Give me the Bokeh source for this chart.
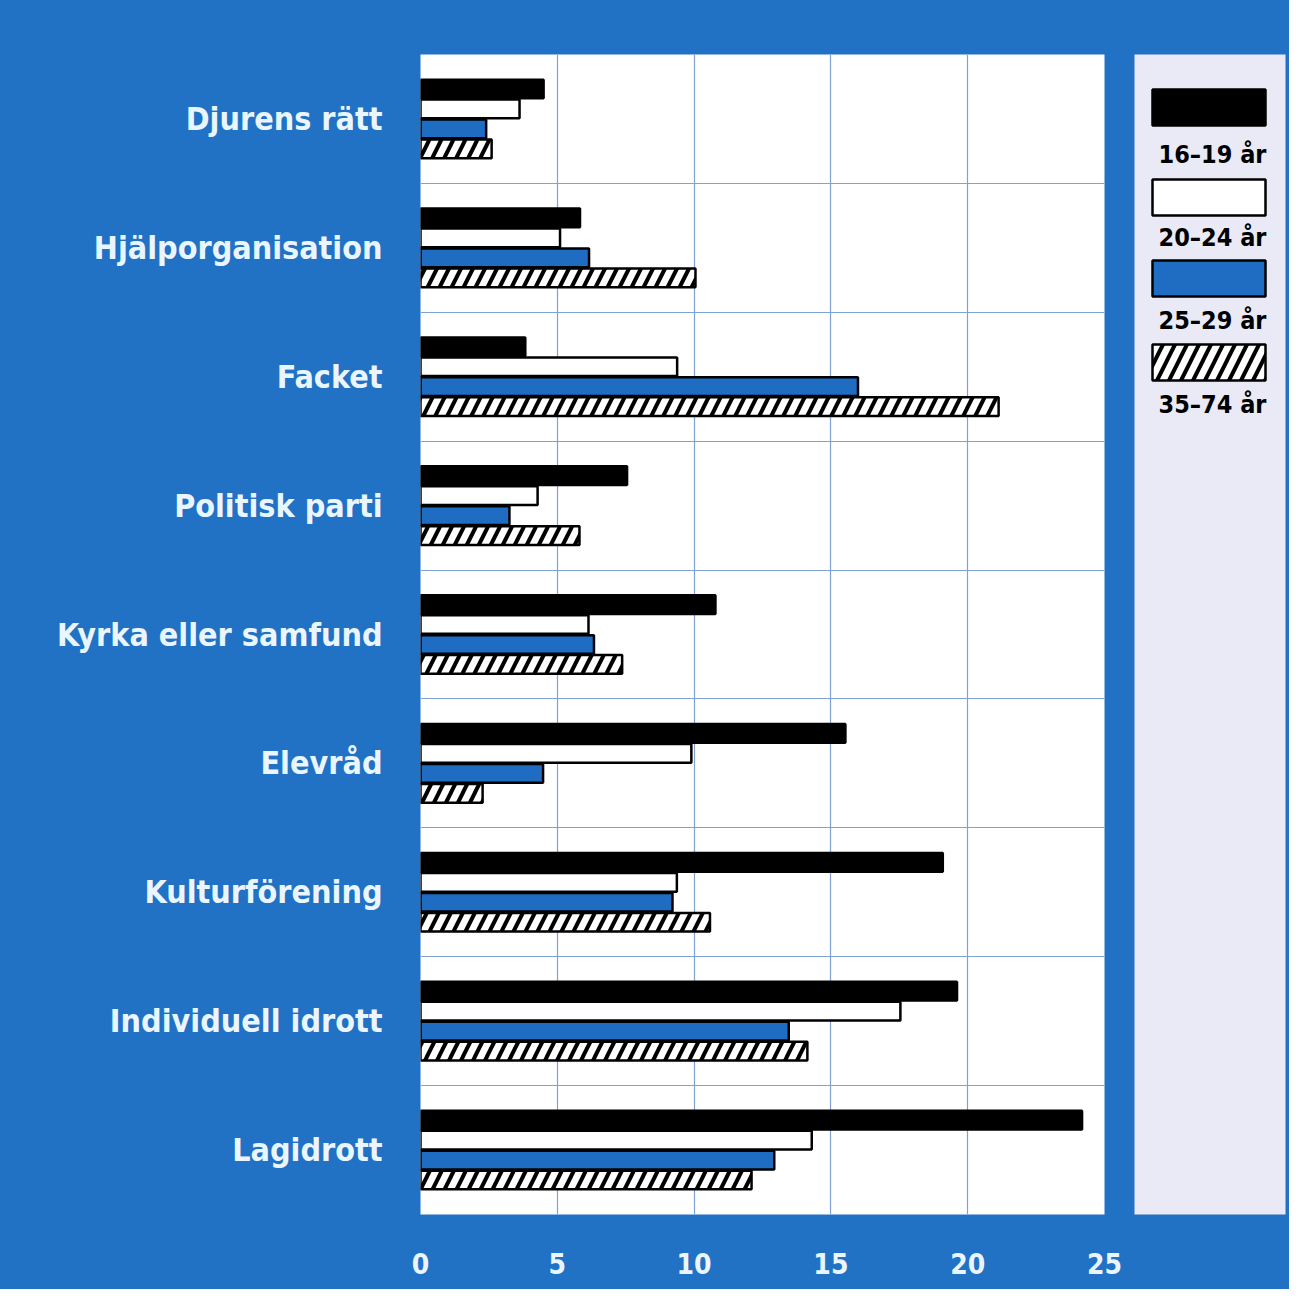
from bokeh.plotting import figure
from bokeh.layouts import row
from bokeh.models import Range1d, FactorRange, FixedTicker, ColumnDataSource
from bokeh.transform import dodge
from bokeh.core.properties import value
from bokeh.embed import file_html
from bokeh.resources import INLINE

# ---------------- data ----------------
categories = ["Djurens rätt", "Hjälporganisation", "Facket", "Politisk parti",
              "Kyrka eller samfund", "Elevråd", "Kulturförening",
              "Individuell idrott", "Lagidrott"]
age_groups = ["16–19 år", "20–24 år", "25–29 år", "35–74 år"]
v_16_19 = [4.5, 5.83, 3.83, 7.55, 10.78, 15.53, 19.09, 19.61, 24.18]
v_20_24 = [3.62, 5.1, 9.38, 4.28, 6.14, 9.9, 9.37, 17.54, 14.3]
v_25_29 = [2.4, 6.16, 15.99, 3.25, 6.34, 4.48, 9.21, 13.46, 12.93]
v_35_74 = [2.6, 10.05, 21.13, 5.81, 7.37, 2.27, 10.58, 14.14, 12.1]
x_ticks = [0, 5, 10, 15, 20, 25]

# ---------------- style ----------------
BG = "#2171c4"
BAR_BLUE = "#1f6dc2"
LAV = "#e9eaf6"
TXT = "#eaf6ff"
GRID = "#7fa2d4"
FONT = "DejaVu Sans Condensed"

series = [
    dict(col="a", fill="black", hatch=None),
    dict(col="b", fill="white", hatch=None),
    dict(col="c", fill=BAR_BLUE, hatch=None),
    dict(col="d", fill="white", hatch="/"),
]

src = ColumnDataSource(dict(cat=categories, a=v_16_19, b=v_20_24, c=v_25_29, d=v_35_74))

p = figure(width=1124, height=1289, output_backend="svg", toolbar_location=None,
           x_range=Range1d(0, 25), y_range=FactorRange(*reversed(categories)),
           min_border_left=420, min_border_right=20, min_border_top=54, min_border_bottom=72)
p.background_fill_color = "white"
p.border_fill_color = BG
p.outline_line_color = None

pitch = 0.155
for k, s in enumerate(series):
    off = (1.5 - k) * pitch
    kw = dict(y=dodge("cat", off, range=p.y_range), right=s["col"], left=0, height=0.145,
              source=src, fill_color=s["fill"], line_color="black", line_width=2.5)
    if s["hatch"]:
        kw.update(hatch_pattern=s["hatch"], hatch_color="black", hatch_scale=24, hatch_weight=4)
    p.hbar(**kw)

# axes
p.xaxis.ticker = FixedTicker(ticks=x_ticks)
p.xaxis.axis_line_color = None
p.xaxis.major_tick_line_color = None
p.xaxis.minor_tick_line_color = None
p.xaxis.major_label_text_font = FONT
p.xaxis.major_label_text_font_style = "bold"
p.xaxis.major_label_text_font_size = "28px"
p.xaxis.major_label_text_color = TXT
p.xaxis.major_label_standoff = 32

p.yaxis.axis_line_color = None
p.yaxis.major_tick_line_color = None
p.yaxis.major_label_text_font = FONT
p.yaxis.major_label_text_font_style = "bold"
p.yaxis.major_label_text_font_size = "32px"
p.yaxis.major_label_text_color = TXT
p.yaxis.major_label_standoff = 32

# grid
p.xgrid.ticker = FixedTicker(ticks=x_ticks)
p.xgrid.grid_line_color = GRID
p.xgrid.grid_line_width = 1.2
p.ygrid.ticker = FixedTicker(ticks=list(range(1, len(categories))))
p.ygrid.grid_line_color = GRID
p.ygrid.grid_line_width = 1.2

# ---------------- legend panel ----------------
leg = figure(width=165, height=1289, output_backend="svg", toolbar_location=None,
             x_range=Range1d(0, 151), y_range=Range1d(1160, 0),
             x_axis_location=None, y_axis_location=None,
             min_border_left=10, min_border_right=4, min_border_top=54, min_border_bottom=75)
leg.background_fill_color = LAV
leg.border_fill_color = BG
leg.outline_line_color = None
leg.grid.visible = False

sw_top = [35, 125, 206, 290]
sw_h = 36
lab_y = [100, 183, 266, 350]
for k, s in enumerate(series):
    kw = dict(left=[18], right=[131], top=[sw_top[k]], bottom=[sw_top[k] + sw_h],
              fill_color=s["fill"], line_color="black", line_width=2.5)
    if s["hatch"]:
        kw.update(hatch_pattern=s["hatch"], hatch_color="black", hatch_scale=24, hatch_weight=4)
    leg.quad(**kw)
leg.text(x=[78] * 4, y=lab_y, text=age_groups, text_align="center", text_baseline="middle",
         text_font=value(FONT), text_font_style="bold", text_font_size="25px", text_color="black")

layout = row(p, leg, styles={"background-color": BG})
open("out.html", "w").write(file_html(layout, INLINE))
